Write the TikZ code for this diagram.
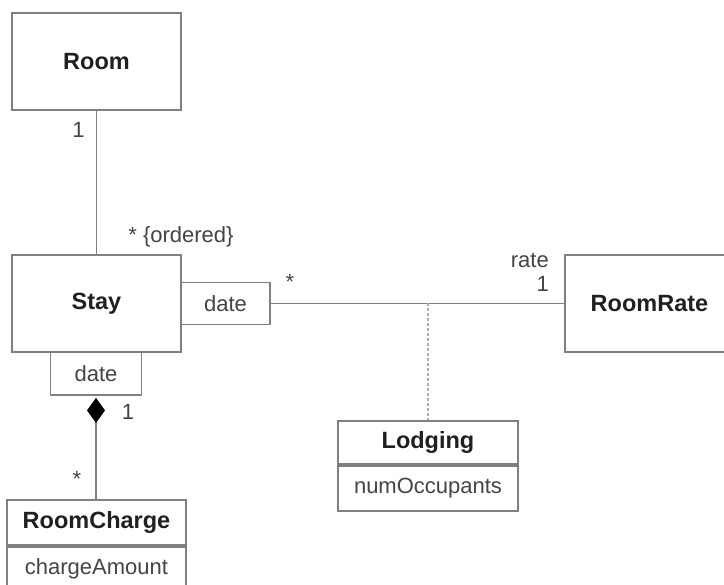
\documentclass[tikz,border=0pt]{standalone}
\usepackage{fontspec}
\setmainfont{Liberation Sans}
\usetikzlibrary{arrows.meta,positioning}
\definecolor{rand}{HTML}{808080}
\definecolor{schrift}{HTML}{202020}
\definecolor{hschrift}{HTML}{444444}
\definecolor{punkt}{HTML}{ABABAB}
\tikzset{
  cls/.style={draw=rand,line width=1.8pt,fill=white,minimum width=169pt,minimum height=97pt,inner sep=0pt,text=schrift,font=\fontsize{23.5}{25}\selectfont\bfseries},
  cname/.style={draw=rand,line width=1.8pt,fill=white,inner sep=0pt,text=schrift,font=\fontsize{23.5}{25}\selectfont\bfseries},
  cattr/.style={draw=rand,line width=1.8pt,fill=white,inner sep=0pt,text=hschrift,font=\fontsize{22}{24}\selectfont},
  qual/.style={draw=rand,line width=1.8pt,fill=white,inner sep=0pt,text=hschrift,font=\fontsize{22}{24}\selectfont},
  assoc/.style={rand,line width=1.7pt},
  comp/.style={{Diamond[length=25pt,width=18pt,fill=black,color=black,sep=2pt]}-,rand,line width=1.7pt},
  hilf/.style={punkt,line width=2.4pt,dash pattern=on 2.5pt off 2.5pt},
  lbl/.style={inner sep=0pt,text=hschrift,font=\fontsize{22}{24}\selectfont},
}
\begin{document}
\begin{tikzpicture}[x=1pt,y=-1pt]
  \useasboundingbox (0,0) rectangle (724,585);
  % classes
  \node[cls] (room) at (96.5,61.5) {Room};
  \node[cls] (stay) at (96.5,303.5) {Stay};
  \node[cls] (rate) at (649.5,303.5) {RoomRate};
  \node[qual,minimum width=89pt,minimum height=42pt] (qdr) at (225.5,303.5) {date};
  \node[qual,minimum width=91pt,minimum height=43pt] (qdb) at (96,373.5) {date};
  \node[cname,minimum width=180pt,minimum height=43pt] (lodg) at (428,442.5) {Lodging};
  \node[cattr,minimum width=180pt,minimum height=45pt,below=0pt of lodg] (lodga) {numOccupants};
  \node[cname,minimum width=179pt,minimum height=45pt] (rch) at (96.5,522.5) {RoomCharge};
  \node[cattr,minimum width=179pt,minimum height=45pt,below=0pt of rch] (rcha) {chargeAmount};
  % connectors
  \draw[assoc] (room) -- (stay);
  \draw[assoc] (qdr) -- (rate);
  \coordinate (mitte) at (lodg.north |- qdr.east);
  \draw[hilf] (mitte) -- (lodg);
  \draw[comp] (qdb.south) -- (qdb.south |- rch.north);
  % multiplicities
  \node[lbl] (m1) at (78.5,130) {1};
  \node[lbl] (m2) at (181,237) {* \{ordered\}};
  \node[lbl] (m3) at (290,282) {*};
  \node[lbl,anchor=east] (m4) at (549,260) {rate};
  \node[lbl,anchor=east] (m5) at (549,284) {1};
  \node[lbl] (m6) at (128,412) {1};
  \node[lbl] (m7) at (77,479) {*};
\end{tikzpicture}
\end{document}
